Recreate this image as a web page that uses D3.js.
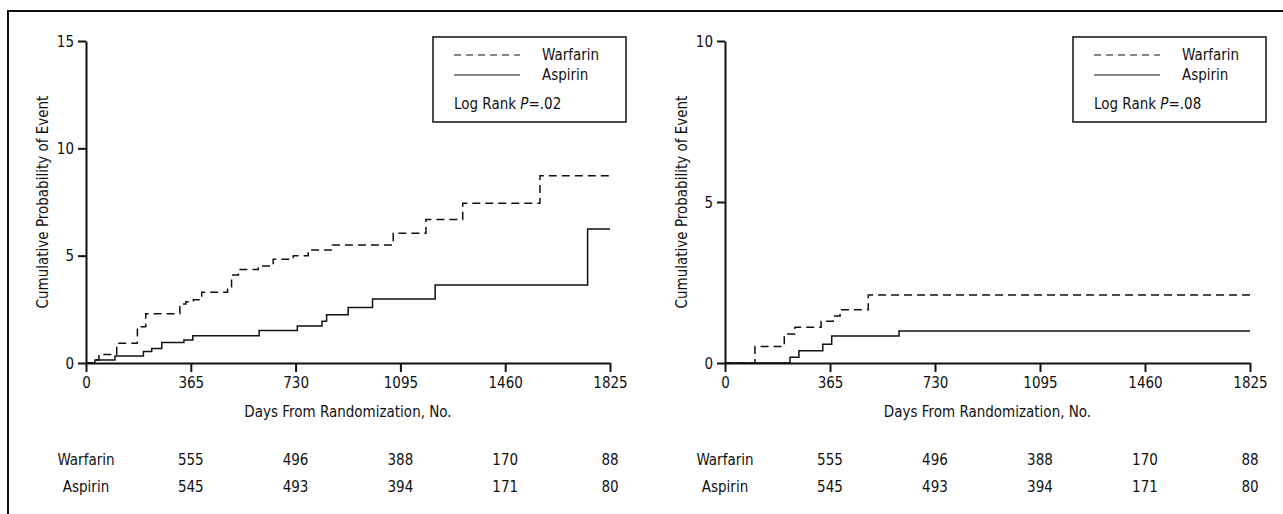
<!DOCTYPE html>
<html>
<head>
<meta charset="utf-8">
<script src="https://cdn.jsdelivr.net/npm/d3@7"></script>
<style>
  body { margin: 0; background: #fff; }
  svg text { font-family: "Liberation Sans Narrow", "DejaVu Sans Condensed", sans-serif; font-size: 15px; fill: #111; }
</style>
</head>
<body>
<svg class="chart"></svg>
<script>
const width = 1283, height = 514;

// tick days and numbers at risk (same for both panels)
const dayTicks = [0, 365, 730, 1095, 1460, 1825];
const riskDays = [365, 730, 1095, 1460, 1825];
const warfarinRisk = [555, 496, 388, 170, 88];
const aspirinRisk = [545, 493, 394, 171, 80];

// left panel curves (days, cumulative %)
const leftWarfarinDays = [0, 31, 45, 107, 179, 208, 327, 348, 374, 403, 493, 507, 531, 600, 652, 722, 774, 858, 1070, 1184, 1312, 1581, 1825];
const leftWarfarinProb = [0, 0.14, 0.4, 0.92, 1.69, 2.3, 2.75, 2.85, 2.95, 3.3, 3.55, 4.1, 4.36, 4.52, 4.83, 5.0, 5.26, 5.5, 6.04, 6.69, 7.44, 8.72, 8.72];
const leftAspirinDays = [0, 31, 101, 200, 229, 264, 341, 372, 603, 736, 822, 838, 913, 998, 1216, 1747, 1825];
const leftAspirinProb = [0, 0.14, 0.33, 0.53, 0.68, 0.95, 1.07, 1.27, 1.51, 1.72, 1.95, 2.25, 2.59, 2.98, 3.63, 6.24, 6.24];

// right panel curves
const rightWarfarinDays = [0, 104, 206, 243, 334, 376, 400, 498, 1825];
const rightWarfarinProb = [0, 0.51, 0.9, 1.11, 1.3, 1.46, 1.65, 2.11, 2.11];
const rightAspirinDays = [0, 226, 257, 340, 371, 605, 1825];
const rightAspirinProb = [0, 0.18, 0.38, 0.58, 0.84, 0.99, 0.99];

const leftYTicks = [0, 5, 10, 15];
const rightYTicks = [0, 5, 10];

let chart = d3.select(".chart")
  .attr("width", width)
  .attr("height", height);

// outer frame (top and left edges)
chart.append("path")
  .attr("d", `M8,${height} V11 H${width}`)
  .attr("fill", "none")
  .attr("stroke", "#111")
  .attr("stroke-width", 2);

const panels = [
  { x0: 86, x1: 610, yMax: 15, yTicks: leftYTicks, legendX: 433, p: ".02",
    wd: leftWarfarinDays, wp: leftWarfarinProb, ad: leftAspirinDays, ap: leftAspirinProb },
  { x0: 725, x1: 1250, yMax: 10, yTicks: rightYTicks, legendX: 1073, p: ".08",
    wd: rightWarfarinDays, wp: rightWarfarinProb, ad: rightAspirinDays, ap: rightAspirinProb }
];

const y0 = 363, yTop = 41;

panels.forEach(pn => {
  let x = d3.scaleLinear().domain([0, 1825]).range([pn.x0, pn.x1]);
  let y = d3.scaleLinear().domain([0, pn.yMax]).range([y0, yTop]);
  let g = chart.append("g");

  // axes
  let xAxis = g.append("g")
    .attr("transform", `translate(0,${y0})`)
    .call(d3.axisBottom(x).tickValues(dayTicks).tickFormat(d3.format("d"))
      .tickSize(9).tickSizeOuter(0).tickPadding(5));
  let yAxis = g.append("g")
    .attr("transform", `translate(${pn.x0},0)`)
    .call(d3.axisLeft(y).tickValues(pn.yTicks).tickFormat(d3.format("d"))
      .tickSize(8).tickSizeOuter(0).tickPadding(4));
  [xAxis, yAxis].forEach(a => {
    a.selectAll("path, line").attr("stroke", "#111").attr("stroke-width", 2);
    a.selectAll("text").attr("fill", "#111");
  });
  yAxis.selectAll("text").attr("dy", "0.35em");

  // axis titles
  g.append("text")
    .attr("transform", `translate(${pn.x0 - 43},${(y0 + yTop) / 2}) rotate(-90)`)
    .attr("text-anchor", "middle")
    .attr("dy", "0.35em")
    .text("Cumulative Probability of Event");
  g.append("text")
    .attr("x", (pn.x0 + pn.x1) / 2)
    .attr("y", 412)
    .attr("text-anchor", "middle")
    .attr("dy", "0.35em")
    .text("Days From Randomization, No.");

  // curves
  let line = d3.line()
    .x(d => x(d[0]))
    .y(d => y(d[1]))
    .curve(d3.curveStepAfter);
  g.append("path")
    .datum(d3.zip(pn.ad, pn.ap))
    .attr("d", line)
    .attr("fill", "none")
    .attr("stroke", "#111")
    .attr("stroke-width", 1.5);
  g.append("path")
    .datum(d3.zip(pn.wd, pn.wp))
    .attr("d", line)
    .attr("fill", "none")
    .attr("stroke", "#111")
    .attr("stroke-width", 1.5)
    .attr("stroke-dasharray", "8,5");

  // numbers at risk
  [["Warfarin", warfarinRisk, 460], ["Aspirin", aspirinRisk, 487]].forEach(row => {
    g.append("text")
      .attr("x", x(0))
      .attr("y", row[2])
      .attr("text-anchor", "middle")
      .attr("dy", "0.35em")
      .text(row[0]);
    g.selectAll(null)
      .data(row[1])
      .enter().append("text")
      .attr("x", (d, i) => x(riskDays[i]))
      .attr("y", row[2])
      .attr("text-anchor", "middle")
      .attr("dy", "0.35em")
      .text(d => d);
  });

  // legend box
  let lg = g.append("g").attr("transform", `translate(${pn.legendX},37)`);
  lg.append("rect")
    .attr("width", 193).attr("height", 85)
    .attr("fill", "#fff").attr("stroke", "#111").attr("stroke-width", 1.5);
  lg.append("line")
    .attr("x1", 21).attr("x2", 87).attr("y1", 18).attr("y2", 18)
    .attr("stroke", "#111").attr("stroke-width", 1.2).attr("stroke-dasharray", "7,5");
  lg.append("line")
    .attr("x1", 21).attr("x2", 87).attr("y1", 38).attr("y2", 38)
    .attr("stroke", "#111").attr("stroke-width", 1.2);
  lg.append("text").attr("x", 109).attr("y", 18).attr("dy", "0.35em").text("Warfarin");
  lg.append("text").attr("x", 109).attr("y", 38).attr("dy", "0.35em").text("Aspirin");
  let lr = lg.append("text").attr("x", 21).attr("y", 67).attr("dy", "0.35em");
  lr.append("tspan").text("Log Rank ");
  lr.append("tspan").attr("font-style", "italic").text("P");
  lr.append("tspan").text("=" + pn.p);
});
</script>
</body>
</html>
